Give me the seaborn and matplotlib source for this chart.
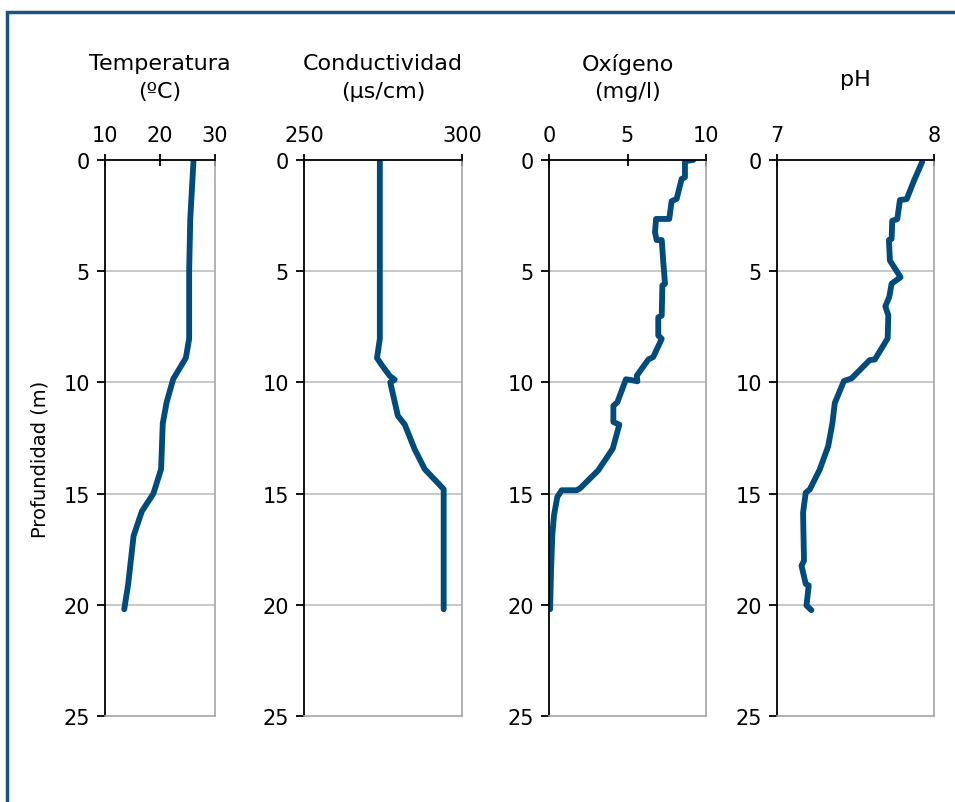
import numpy as np
import pandas as pd
import seaborn as sns
import matplotlib.pyplot as plt
from matplotlib.patches import Rectangle

# profile data (depth in m)
temp_depth = [0, 2.65, 5, 8.04, 8.9, 9.85, 10.9, 11.85, 13.9, 15, 15.8, 16.9, 19.1, 20.2]
temp_vals = [26.1, 25.5, 25.3, 25.3, 24.7, 22.4, 21.2, 20.5, 20.2, 18.8, 16.7, 15.2, 14.2, 13.5]

cond_depth = [0, 8.04, 8.9, 9.2, 9.7, 9.88, 10.0, 11.5, 11.9, 13.0, 13.9, 14.8, 20.2]
cond_vals = [274, 274, 273.1, 274.5, 277.1, 278.7, 277.3, 279.7, 281.9, 285.0, 288.2, 294.2, 294.2]

oxy_depth = [0, 0.05, 0.78, 0.85, 1.75, 1.85, 2.65, 2.65, 3.25, 3.6, 3.6, 4.6, 5.57, 5.64,
             7.0, 7.07, 7.89, 8.04, 8.86, 8.97, 9.7, 9.95, 9.9, 9.86, 10.58, 10.9, 11.05,
             11.78, 11.9, 12.98, 13.95, 14.77, 14.85, 14.85, 15.15, 15.97, 16.87, 18.5, 20.2]
oxy_vals = [9.19, 8.66, 8.66, 8.45, 8.13, 7.81, 7.66, 6.82, 6.75, 6.86, 7.18, 7.28, 7.39, 7.22,
            7.18, 6.96, 6.96, 7.18, 6.64, 6.33, 5.59, 5.63, 5.27, 4.9, 4.52, 4.35, 4.1,
            4.1, 4.48, 4.06, 3.14, 1.97, 1.76, 0.81, 0.53, 0.32, 0.21, 0.13, 0.07]

ph_depth = [0.08, 0.94, 1.76, 1.8, 2.66, 2.73, 3.55, 3.6, 4.52, 5.27, 5.56, 6.16, 6.58, 6.98,
            8.02, 8.97, 9.0, 9.82, 9.94, 10.93, 11.83, 12.87, 13.92, 14.81, 14.96, 15.86,
            18.02, 18.24, 19.06, 19.13, 20.03, 20.24]
ph_vals = [7.925, 7.872, 7.826, 7.783, 7.766, 7.734, 7.73, 7.713, 7.719, 7.787, 7.73, 7.715,
           7.69, 7.709, 7.705, 7.623, 7.59, 7.475, 7.426, 7.368, 7.353, 7.326, 7.272, 7.209,
           7.183, 7.166, 7.172, 7.156, 7.183, 7.202, 7.188, 7.219]

titles = ['Temperatura\n(ºC)', 'Conductividad\n(µs/cm)', 'Oxígeno\n(mg/l)', 'pH']
xlims = [(10, 30), (250, 300), (0, 10), (7, 8)]
xticks = [[10, 20, 30], [250, 300], [0, 5, 10], [7, 8]]
depth_ticks = [0, 5, 10, 15, 20, 25]

sns.set_style('white')
plt.rcParams['font.family'] = ['DejaVu Sans']
plt.rcParams['text.color'] = 'black'
plt.rcParams['xtick.color'] = 'black'
plt.rcParams['ytick.color'] = 'black'
line_color = '#004a7c'

fig = plt.figure(figsize=(9.55, 8.03), dpi=100)
W, H = 955, 803
# axes boxes in pixels: left, right
boxes = [(105, 215), (304, 462), (549, 706), (777, 934)]
top_px, bot_px = 161, 717

series = [(temp_vals, temp_depth), (cond_vals, cond_depth), (oxy_vals, oxy_depth), (ph_vals, ph_depth)]

for k, ((l, r), (vals, dep)) in enumerate(zip(boxes, series)):
    ax = fig.add_axes([l / W, 1 - bot_px / H, (r - l) / W, (bot_px - top_px) / H])
    df = pd.DataFrame({'v': vals, 'd': dep})
    sns.lineplot(data=df, x='v', y='d', sort=False, estimator=None, ax=ax,
                 color=line_color, linewidth=4.2, solid_capstyle='round', solid_joinstyle='round')
    ax.set_xlim(*xlims[k])
    ax.set_ylim(25, 0)
    ax.set_yticks(depth_ticks)
    ax.set_xticks(xticks[k])
    ax.xaxis.tick_top()
    ax.set_xlabel('')
    ax.set_ylabel('')
    for y in [5, 10, 15, 20]:
        ax.axhline(y, color='#bfbfbf', linewidth=1.2, zorder=0)
    ax.spines['left'].set_color('black')
    ax.spines['top'].set_color('black')
    ax.spines['right'].set_color('#a6a6a6')
    ax.spines['bottom'].set_color('#a6a6a6')
    for s in ['left', 'top']:
        ax.spines[s].set_linewidth(1.3)
    for s in ['right', 'bottom']:
        ax.spines[s].set_linewidth(1.2)
    ax.tick_params(axis='y', direction='out', length=6, width=1.3, color='black',
                   labelcolor='black', labelsize=15, pad=5, left=True)
    ax.tick_params(axis='x', direction='inout', length=8, width=1.3, color='black',
                   labelcolor='black', labelsize=15, pad=7, top=True)
    cx = (l + r) / 2 / W
    if k == 3:
        fig.text(cx, 1 - 80 / H, titles[k], ha='center', va='center', fontsize=16,
                 color='black')
    else:
        fig.text(cx, 1 - 78 / H, titles[k], ha='center', va='center', fontsize=16,
                 linespacing=1.45, color='black')

fig.text(40 / W, 1 - 459 / H, 'Profundidad (m)', rotation=90, ha='center', va='center',
         fontsize=14, color='black')

# blue frame, only top and left edges are inside the picture
fig.patches.append(Rectangle((7 / W, -0.2), 1.5, 1.2 - 13 / H, transform=fig.transFigure,
                             fill=False, edgecolor='#1b5285', linewidth=2.5))

fig.savefig('out.png', dpi=100)
